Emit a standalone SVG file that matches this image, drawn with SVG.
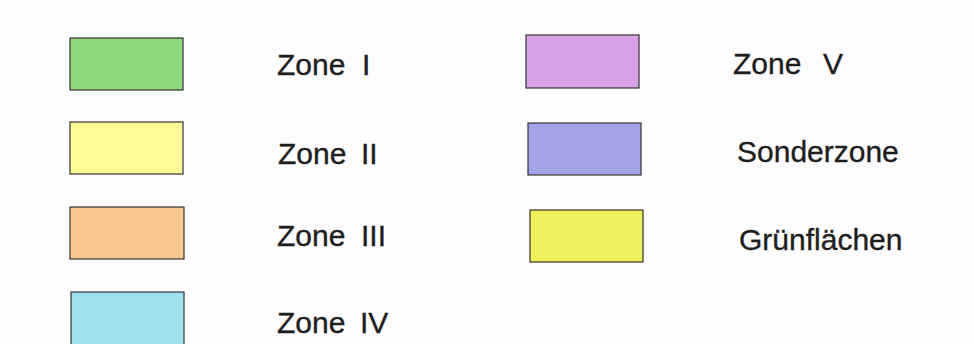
<svg xmlns="http://www.w3.org/2000/svg" width="974" height="344" viewBox="0 0 974 344">
<style>
.sw{stroke:#333;stroke-width:1.2}
.t{font-family:"Liberation Sans",Arial,sans-serif;font-size:30px;fill:#1e1e1e;stroke:#1e1e1e;stroke-width:0.35}
</style>
<rect width="974" height="344" fill="#fdfdfd"/>
<g id="zone1"><rect class="sw" x="70" y="38" width="113" height="52" fill="#8fd97c"/><text class="t" x="277" y="75">Zone<tspan x="362">I</tspan></text></g>
<g id="zone2"><rect class="sw" x="70" y="122" width="113" height="52" fill="#fdfa98"/><text class="t" x="278" y="164">Zone<tspan x="361">II</tspan></text></g>
<g id="zone3"><rect class="sw" x="70" y="207" width="114" height="52" fill="#f7c890"/><text class="t" x="277" y="246">Zone<tspan x="361">III</tspan></text></g>
<g id="zone4"><rect class="sw" x="71" y="292" width="113" height="54" fill="#9fe1ef"/><text class="t" x="277" y="333">Zone<tspan x="360">IV</tspan></text></g>
<g id="zone5"><rect class="sw" x="526" y="35" width="113" height="53" fill="#d9a2e6"/><text class="t" x="733" y="74">Zone<tspan x="823">V</tspan></text></g>
<g id="sonderzone"><rect class="sw" x="528" y="123" width="113" height="52" fill="#a3a4e8"/><text class="t" x="737" y="162">Sonderzone</text></g>
<g id="gruenflaechen"><rect class="sw" x="530" y="210" width="113" height="52" fill="#eef05c"/><text class="t" x="739" y="250">Grünflächen</text></g>
</svg>
